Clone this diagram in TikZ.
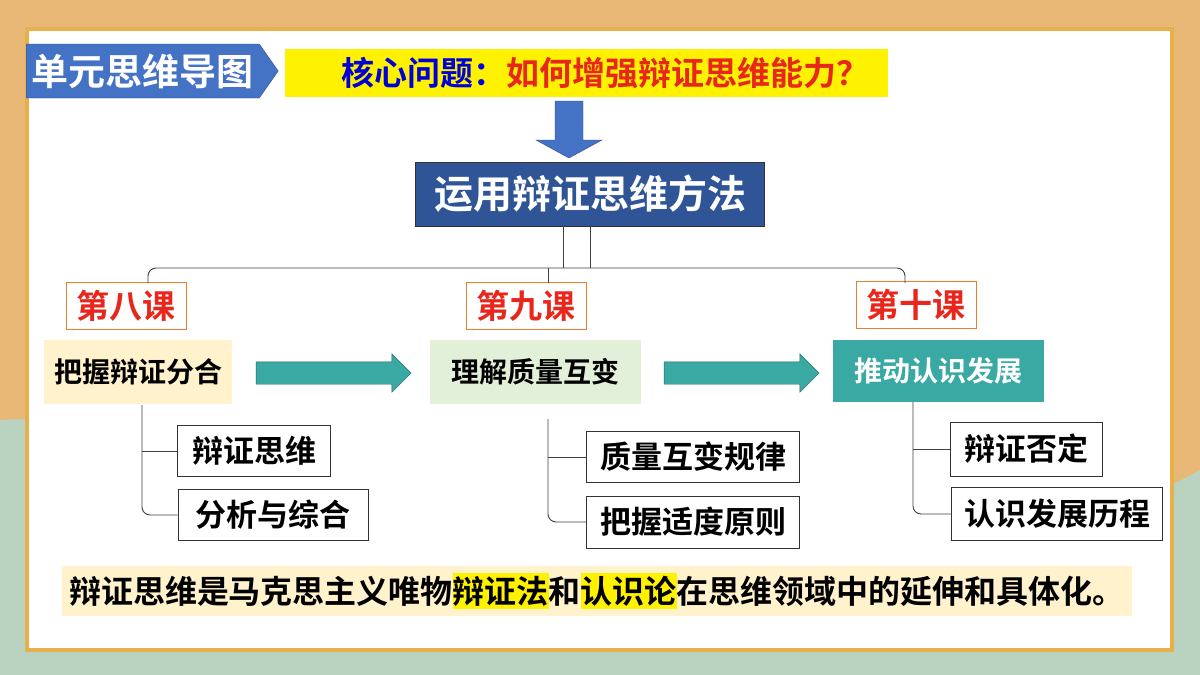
\documentclass[tikz,border=0pt]{standalone}
\usepackage{fontspec}
\setmainfont{Noto Sans CJK SC}[BoldFont={* Bold}]
\usetikzlibrary{shapes.arrows,shapes.symbols}
\definecolor{sand}{HTML}{E9B877}
\definecolor{sea}{HTML}{B9D3C0}
\definecolor{ttl}{HTML}{4472C4}
\definecolor{dblue}{HTML}{2F5597}
\definecolor{orng}{HTML}{ED7D31}
\definecolor{redt}{HTML}{E8261C}
\definecolor{cream}{HTML}{FFF2CC}
\definecolor{lgreen}{HTML}{E2F0D9}
\definecolor{teal}{HTML}{3AA9A3}
\definecolor{frame}{HTML}{E8B04A}
\begin{document}
\begin{tikzpicture}[x=1pt,y=-1pt,
  txt/.style={font=\bfseries\fontsize{#1}{#1}\selectfont},
  lesson/.style={draw=orng,line width=1pt,fill=white,text=redt,txt=33,minimum height=47pt,minimum width=120pt,inner sep=0pt},
  topic/.style={txt=28,minimum height=64pt,minimum width=211pt,inner sep=0pt},
  leaf/.style={draw=black!80,line width=1pt,fill=white,txt=31,minimum height=51pt,inner sep=0pt},
  conn/.style={draw=black!75,line width=0.9pt,rounded corners=8pt},
  tarrow/.style={single arrow,fill=teal,draw=teal!60!black,minimum height=155pt,minimum width=38pt,single arrow head extend=8pt,inner xsep=0pt,inner ysep=11pt,single arrow tip angle=90}]
\useasboundingbox (0,0) rectangle (1200,675);
\fill[sand] (0,0) rectangle (1200,675);
\fill[sea] (0,420) -- (0,675) -- (1200,675) -- (1200,470) .. controls (900,640) and (300,400) .. (0,420);
\draw[frame,line width=4pt,fill=white] (27,29) rectangle (1172,650);
% banner
\node[fill=ttl,draw=ttl!70!black,signal,signal to=east,signal pointer angle=110,minimum width=252pt,minimum height=54pt,text=white,txt=37,inner sep=0pt,anchor=west] (ban) at (26,71) {单元思维导图\hspace{20pt}};
\node[fill=yellow,txt=33,minimum width=603pt,minimum height=48pt,inner sep=0pt,anchor=west] (q) at (285,73) {\hspace{38pt}\textcolor{blue!85!black}{核心问题：}\textcolor{redt}{如何增强辩证思维能力？}\hfill};
\node[fill=dblue,draw=black!80,text=white,txt=39,minimum width=349pt,minimum height=64pt,inner sep=0pt] (m) at (590,194) {运用辩证思维方法};
\draw[fill=ttl,draw=ttl!70!black] (555,101) -- (583,101) -- (583,140) -- (602,140) -- (569,158) -- (536,140) -- (555,140) -- cycle;
% lessons
\node[lesson] (l8) at (126,306) {第八课};
\node[lesson] (l9) at (526,306) {第九课};
\node[lesson] (l10) at (916,305) {第十课};
\draw[conn] (m.south -| 563,0) -- (563,268);
\draw[conn] (m.south -| 590,0) -- (590,268);
\draw[conn] (148,283) -- (148,268) -- (905,268) -- (905,283);
\draw[conn] (548,268) -- (548,283);
% topics
\node[topic,fill=cream,minimum width=188pt] (t8) at (138,372) {把握辩证分合};
\node[topic,fill=lgreen] (t9) at (535,372) {理解质量互变};
\node[topic,fill=teal,text=white,minimum height=62pt] (t10) at (938,371) {推动认识发展};
\node[tarrow] (a1) at (328,373) {};
\node[tarrow] (a2) at (736,373) {};
% leaves
\node[leaf,minimum width=153pt] (b1) at (254,451) {辩证思维};
\node[leaf,minimum width=190pt] (b2) at (273,515) {分析与综合};
\node[leaf,minimum width=213pt] (c1) at (693,457) {质量互变规律};
\node[leaf,minimum width=213pt,minimum height=52pt] (c2) at (693,522) {把握适度原则};
\node[leaf,minimum width=152pt,minimum height=54pt] (d1) at (1026,449) {辩证否定};
\node[leaf,minimum width=211pt,minimum height=53pt] (d2) at (1057,514) {认识发展历程};
\draw[conn] (142,405) -- (142,515) -- (b2.west);
\draw[conn] (142,451) -- (b1.west);
\draw[conn] (548,419) -- (548,522) -- (c2.west);
\draw[conn] (548,457) -- (c1.west);
\draw[conn] (913,402) -- (913,514) -- (d2.west);
\draw[conn] (913,449) -- (d1.west);
% bottom
\node[fill=cream,txt=32,minimum width=1070pt,minimum height=50pt,inner sep=0pt] (s) at (597,591) {辩证思维是马克思主义唯物\colorbox{yellow}{\hspace{-3pt}辩证法\hspace{-3pt}}和\colorbox{yellow}{\hspace{-3pt}认识论\hspace{-3pt}}在思维领域中的延伸和具体化。};
\end{tikzpicture}
\end{document}
